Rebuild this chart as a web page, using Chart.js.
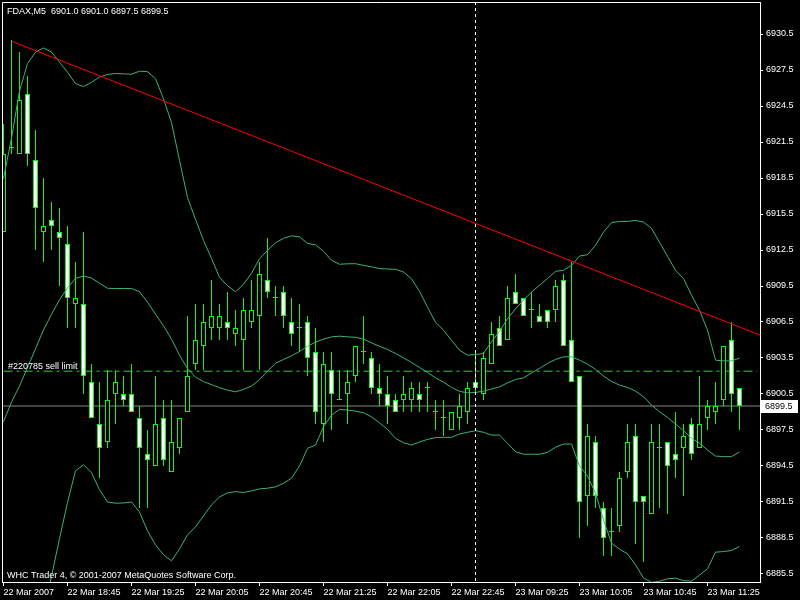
<!DOCTYPE html>
<html>
<head>
<meta charset="utf-8">
<script src="https://cdn.jsdelivr.net/npm/chart.js@4.4.1/dist/chart.umd.min.js"></script>
<style>
  html, body { margin: 0; padding: 0; background: #000; }
  canvas { display: block; }
</style>
</head>
<body>
<canvas id="grafico" width="800" height="600"></canvas>
<script>
// FDAX M5 - candles de 22 Mar 2007 18:05 ate 23 Mar 2007 11:45
const abertura = [
  6914.0, 6921.0, 6920.5, 6925.5, 6920.0, 6914.0, 6915.0, 6914.0, 6913.0, 6908.0,
  6908.0, 6901.5, 6898.0, 6896.5, 6900.5, 6900.5, 6900.5, 6898.5, 6895.5, 6894.5,
  6898.5, 6894.0, 6896.0, 6899.0, 6903.0, 6904.5, 6906.0, 6906.0, 6906.5, 6905.5,
  6905.0, 6906.5, 6907.0, 6910.0, 6908.5, 6909.0, 6906.5, 6906.0, 6906.5, 6904.0,
  6898.0, 6902.5, 6900.0, 6900.5, 6902.0, 6904.0, 6903.5, 6901.0, 6900.5, 6900.0,
  6900.0, 6900.0, 6900.5, 6901.0, 6899.0, 6898.5, 6897.5, 6898.5, 6899.0, 6901.5,
  6900.5, 6903.0, 6906.0, 6905.0, 6909.0, 6908.5, 6907.5, 6907.0, 6907.5, 6907.5,
  6910.0, 6905.0, 6902.0, 6892.0, 6896.5, 6891.0, 6889.0, 6889.5, 6894.0, 6897.0,
  6892.0, 6890.5, 6896.0, 6896.5, 6895.5, 6896.0, 6898.0, 6896.0, 6898.5, 6899.0,
  6900.0, 6905.0, 6901.0
];
const maxima = [
  6923.0, 6930.0, 6929.0, 6927.0, 6922.5, 6918.5, 6916.5, 6916.0, 6914.5, 6911.5,
  6914.0, 6903.0, 6901.5, 6902.5, 6902.5, 6902.0, 6903.0, 6899.5, 6897.5, 6902.0,
  6900.0, 6900.0, 6898.5, 6907.0, 6908.0, 6908.0, 6910.0, 6908.0, 6909.0, 6907.5,
  6908.5, 6910.0, 6911.5, 6913.5, 6909.5, 6909.5, 6908.5, 6908.0, 6907.0, 6906.0,
  6904.0, 6904.0, 6902.5, 6902.5, 6904.5, 6907.0, 6904.0, 6903.0, 6902.0, 6900.5,
  6902.0, 6901.5, 6901.5, 6901.5, 6900.0, 6900.0, 6899.0, 6900.5, 6901.5, 6904.0,
  6904.0, 6906.5, 6907.0, 6909.5, 6910.5, 6908.5, 6909.0, 6908.0, 6907.5, 6910.0,
  6910.5, 6911.5, 6902.0, 6898.0, 6897.0, 6891.5, 6891.0, 6894.0, 6898.0, 6898.0,
  6892.0, 6898.0, 6898.0, 6896.5, 6899.0, 6898.0, 6898.5, 6902.0, 6900.0, 6901.5,
  6904.5, 6906.5, 6901.0
];
const minima = [
  6914.0, 6920.5, 6920.5, 6919.5, 6912.5, 6911.5, 6912.5, 6909.5, 6906.0, 6906.0,
  6900.5, 6898.5, 6893.5, 6896.0, 6898.0, 6899.5, 6899.0, 6891.0, 6891.0, 6894.5,
  6894.5, 6894.0, 6895.5, 6899.0, 6902.5, 6902.5, 6905.0, 6905.0, 6905.0, 6904.5,
  6902.5, 6906.0, 6902.5, 6908.5, 6907.0, 6906.0, 6904.5, 6904.0, 6902.0, 6898.0,
  6896.5, 6897.5, 6900.0, 6898.0, 6901.5, 6903.0, 6900.5, 6899.5, 6898.0, 6899.0,
  6899.0, 6899.0, 6899.0, 6899.0, 6897.5, 6897.0, 6897.5, 6897.5, 6898.0, 6900.5,
  6900.0, 6903.0, 6904.5, 6905.0, 6908.0, 6907.0, 6906.0, 6906.5, 6906.0, 6906.5,
  6904.5, 6901.5, 6888.5, 6889.5, 6891.0, 6887.0, 6887.0, 6889.0, 6893.5, 6888.0,
  6886.5, 6890.5, 6891.0, 6890.5, 6893.5, 6892.0, 6895.0, 6896.0, 6897.5, 6898.0,
  6899.5, 6899.0, 6897.5
];
const fechamento = [
  6920.5, 6921.0, 6925.0, 6920.5, 6916.0, 6914.5, 6914.5, 6913.5, 6908.5, 6908.5,
  6902.0, 6898.5, 6896.0, 6900.0, 6901.5, 6900.0, 6899.0, 6896.0, 6895.0, 6898.0,
  6895.0, 6896.5, 6898.5, 6902.0, 6905.0, 6906.5, 6907.0, 6907.0, 6906.0, 6906.0,
  6907.5, 6907.5, 6910.5, 6909.0, 6908.5, 6907.0, 6905.5, 6906.0, 6903.5, 6899.0,
  6903.0, 6900.5, 6900.0, 6901.5, 6904.5, 6904.0, 6901.0, 6900.5, 6899.5, 6899.0,
  6900.5, 6901.0, 6900.0, 6901.0, 6899.0, 6898.5, 6899.0, 6899.5, 6901.0, 6901.0,
  6903.5, 6905.5, 6904.5, 6908.5, 6908.0, 6907.0, 6907.5, 6906.5, 6906.5, 6909.5,
  6904.5, 6901.5, 6891.5, 6897.0, 6892.0, 6888.5, 6889.0, 6893.5, 6896.5, 6891.5,
  6891.5, 6896.5, 6896.0, 6894.5, 6895.0, 6897.0, 6895.5, 6898.0, 6899.5, 6899.5,
  6904.5, 6900.5, 6899.5
];

// Bandas de Bollinger
const bandaSuperior = [
  6918.46, 6921.83, 6925.75, 6928.03, 6928.99, 6929.34, 6928.99, 6928.15, 6927.32, 6926.37,
  6926.12, 6926.47, 6926.92, 6927.13, 6927.21, 6927.18, 6927.15, 6927.40, 6927.36, 6926.78,
  6925.09, 6923.12, 6919.96, 6916.88, 6915.05, 6913.30, 6911.80, 6910.23, 6909.52, 6909.02,
  6909.64, 6910.56, 6911.77, 6912.47, 6913.10, 6913.47, 6913.68, 6913.60, 6913.05, 6912.93,
  6912.39, 6911.64, 6911.31, 6911.35, 6911.36, 6911.22, 6911.10, 6910.95, 6910.92, 6910.89,
  6910.67, 6910.10, 6909.06, 6907.73, 6906.48, 6905.82, 6904.98, 6904.15, 6903.74, 6903.79,
  6903.88, 6904.86, 6905.73, 6906.77, 6907.60, 6908.32, 6909.00, 6909.56, 6910.12, 6910.72,
  6910.81, 6911.22, 6912.00, 6912.11, 6912.89, 6913.99, 6914.78, 6914.88, 6914.88, 6914.97,
  6914.83, 6914.30, 6913.14, 6911.97, 6910.81, 6910.12, 6908.74, 6907.48, 6905.82, 6903.32,
  6903.26, 6903.26, 6903.49
];
const bandaMedia = [
  6898.19, 6899.83, 6901.16, 6902.71, 6904.27, 6905.83, 6907.15, 6908.35, 6909.34, 6910.14,
  6910.33, 6910.16, 6909.73, 6909.31, 6909.29, 6909.29, 6909.29, 6909.02, 6908.15, 6907.15,
  6906.19, 6905.07, 6903.74, 6902.61, 6901.91, 6901.53, 6901.28, 6901.03, 6900.82, 6900.68,
  6900.88, 6901.16, 6901.70, 6902.40, 6903.05, 6903.38, 6903.68, 6904.04, 6904.48, 6904.82,
  6905.07, 6905.26, 6905.32, 6905.26, 6905.23, 6905.07, 6904.76, 6904.48, 6904.21, 6903.88,
  6903.51, 6903.13, 6902.71, 6902.30, 6901.85, 6901.49, 6901.05, 6900.72, 6900.60, 6900.63,
  6900.74, 6900.91, 6901.10, 6901.43, 6901.71, 6901.85, 6902.26, 6902.63, 6903.05, 6903.38,
  6903.60, 6903.60, 6903.32, 6902.99, 6902.55, 6901.99, 6901.55, 6901.24, 6901.05, 6900.74,
  6900.27, 6899.58, 6899.02, 6898.55, 6898.00, 6897.44, 6896.81, 6896.39, 6895.83, 6895.33,
  6895.28, 6895.28, 6895.67
];
const bandaInferior = [
  6877.92, 6877.83, 6876.57, 6877.39, 6879.55, 6882.32, 6885.31, 6888.45, 6891.45, 6894.10,
  6894.60, 6893.95, 6892.52, 6891.50, 6891.40, 6891.42, 6891.50, 6890.67, 6889.09, 6887.93,
  6887.10, 6886.60, 6887.59, 6888.76, 6889.43, 6890.34, 6891.26, 6891.92, 6892.26, 6892.36,
  6892.30, 6892.42, 6892.59, 6892.65, 6892.76, 6893.06, 6893.48, 6894.50, 6895.97, 6896.25,
  6897.77, 6898.74, 6899.22, 6899.16, 6899.08, 6898.94, 6898.60, 6898.10, 6897.55, 6896.81,
  6896.44, 6896.25, 6896.50, 6896.72, 6896.86, 6896.89, 6896.89, 6897.17, 6897.31, 6897.44,
  6897.31, 6897.08, 6897.08, 6896.39, 6895.69, 6895.48, 6895.48, 6895.48, 6895.64, 6896.06,
  6896.33, 6896.33, 6894.50, 6893.67, 6892.23, 6890.01, 6888.07, 6887.57, 6887.18, 6886.27,
  6885.16, 6884.80, 6884.90, 6885.10, 6885.15, 6884.95, 6884.90, 6885.41, 6885.93, 6887.32,
  6887.37, 6887.46, 6887.79
];

const rotulosTempo = ['22 Mar 2007', '22 Mar 18:45', '22 Mar 19:25', '22 Mar 20:05', '22 Mar 20:45',
  '22 Mar 21:25', '22 Mar 22:05', '22 Mar 22:45', '23 Mar 09:25', '23 Mar 10:05', '23 Mar 10:45', '23 Mar 11:25'];
const barraRotulos = [0, 8, 16, 24, 32, 40, 48, 56, 64, 72, 80, 88];
const precosEixo = [6885.5, 6888.5, 6891.5, 6894.5, 6897.5, 6900.5, 6903.5, 6906.5,
  6909.5, 6912.5, 6915.5, 6918.5, 6921.5, 6924.5, 6927.5, 6930.5];

// linhas do grafico
const linhaTendencia = [{x: 1, y: 6929.9}, {x: 94.6, y: 6905.4}];
const precoVendaLimite = 6902.4;
const precoBid = 6899.5;
const barraVertical = 59;
const titulo = 'FDAX,M5  6901.0 6901.0 6897.5 6899.5';
const rodape = 'WHC Trader 4, \u00a9 2001-2007 MetaQuotes Software Corp.';
const textoOrdem = '#220785 sell limit';

const Y_MIN = 6884 + 5 / 6;
const Y_MAX = 6933 + 1 / 6;

let pavios = [];
let corpos = [];
let coresCorpo = [];
for (let i = 0; i < abertura.length; i++) {
  pavios.push({x: i, y: [minima[i], maxima[i]]});
  corpos.push({x: i, y: [abertura[i], fechamento[i]]});
  coresCorpo.push(fechamento[i] < abertura[i] ? '#ffffff' : '#000000');
}

function serie(valores) {
  return valores.map((v, i) => ({x: i, y: v}));
}

const fonte = {family: 'Liberation Sans', size: 9};

const moldura = {
  id: 'moldura',
  beforeDraw(chart) {
    const ctx = chart.ctx;
    ctx.save();
    ctx.fillStyle = '#000';
    ctx.fillRect(0, 0, chart.width, chart.height);
    ctx.restore();
  },
  afterDraw(chart) {
    const ctx = chart.ctx;
    const a = chart.chartArea;
    const y = chart.scales.y;
    ctx.save();
    ctx.strokeStyle = '#fff';
    ctx.lineWidth = 1;
    ctx.beginPath();
    ctx.moveTo(a.left + 0.5, a.bottom);
    ctx.lineTo(a.left + 0.5, a.top + 0.5);
    ctx.lineTo(a.right, a.top + 0.5);
    ctx.stroke();

    ctx.font = '9px "Liberation Sans"';
    ctx.fillStyle = '#fff';
    ctx.textBaseline = 'alphabetic';
    ctx.fillText(titulo, 7, 14);
    ctx.fillText(rodape, 7, 578);
    ctx.fillText(textoOrdem, 8, 369);

    // etiqueta do preco bid
    const py = Math.round(y.getPixelForValue(precoBid));
    ctx.fillStyle = '#fff';
    ctx.fillRect(a.right + 1, py - 6, 37, 13);
    ctx.fillStyle = '#000';
    ctx.textBaseline = 'middle';
    ctx.fillText(precoBid.toFixed(1), a.right + 5, py + 0.5);
    ctx.restore();
  }
};

const ctx = document.getElementById('grafico').getContext('2d');
const grafico = new Chart(ctx, {
  type: 'bar',
  data: {
    datasets: [
      {
        type: 'line',
        data: [{x: -1, y: precoBid}, {x: 96, y: precoBid}],
        borderColor: '#888888',
        borderWidth: 1,
        pointRadius: 0,
        order: 10
      },
      {
        type: 'line',
        data: [{x: 0, y: precoVendaLimite}, {x: 94.2, y: precoVendaLimite}],
        borderColor: '#32cd32',
        borderWidth: 1,
        borderDash: [9, 4, 3, 4],
        pointRadius: 0,
        order: 9
      },
      {
        data: pavios,
        backgroundColor: '#00ff00',
        borderWidth: 0,
        barThickness: 1,
        grouped: false,
        inflateAmount: 0,
        order: 8
      },
      {
        data: corpos,
        backgroundColor: coresCorpo,
        borderColor: '#00ff00',
        borderWidth: 1,
        borderSkipped: false,
        barThickness: 5,
        minBarLength: 1,
        grouped: false,
        inflateAmount: 0,
        order: 7
      },
      {
        type: 'line',
        data: serie(bandaSuperior),
        borderColor: '#3cb371',
        borderWidth: 1,
        pointRadius: 0,
        tension: 0,
        order: 5
      },
      {
        type: 'line',
        data: serie(bandaMedia),
        borderColor: '#3cb371',
        borderWidth: 1,
        pointRadius: 0,
        tension: 0,
        order: 5
      },
      {
        type: 'line',
        data: serie(bandaInferior),
        borderColor: '#3cb371',
        borderWidth: 1,
        pointRadius: 0,
        tension: 0,
        order: 5
      },
      {
        type: 'line',
        data: linhaTendencia,
        borderColor: '#ff0000',
        borderWidth: 1,
        pointRadius: 0,
        order: 3
      },
      {
        type: 'line',
        data: [{x: barraVertical, y: Y_MAX}, {x: barraVertical, y: Y_MIN}],
        borderColor: '#ffffff',
        borderWidth: 1,
        borderDash: [3, 3],
        pointRadius: 0,
        order: 2
      }
    ]
  },
  options: {
    responsive: false,
    animation: false,
    events: [],
    layout: {padding: {left: 2, top: 2, right: 0, bottom: 0}},
    plugins: {
      legend: {display: false},
      tooltip: {enabled: false}
    },
    scales: {
      x: {
        type: 'linear',
        min: -0.1875,
        max: 94.5625,
        offset: false,
        afterBuildTicks: (eixo) => {
          eixo.ticks = barraRotulos.map(v => ({value: v}));
        },
        afterFit: (eixo) => {
          eixo.height = 18;
          eixo.paddingLeft = 0;
          eixo.paddingRight = 0;
        },
        ticks: {
          callback: (valor, indice) => rotulosTempo[indice],
          align: 'start',
          autoSkip: false,
          maxRotation: 0,
          color: '#ffffff',
          font: fonte,
          padding: 1
        },
        grid: {drawOnChartArea: false, offset: false, color: '#ffffff', tickLength: 4},
        border: {color: '#ffffff'}
      },
      y: {
        type: 'linear',
        position: 'right',
        min: Y_MIN,
        max: Y_MAX,
        afterBuildTicks: (eixo) => {
          eixo.ticks = precosEixo.map(v => ({value: v}));
        },
        afterFit: (eixo) => {
          eixo.width = 40;
          eixo.paddingTop = 0;
          eixo.paddingBottom = 0;
        },
        ticks: {
          callback: (valor) => valor.toFixed(1),
          color: '#ffffff',
          font: fonte,
          padding: 3
        },
        grid: {drawOnChartArea: false, color: '#ffffff', tickLength: 3},
        border: {color: '#ffffff'}
      }
    }
  },
  plugins: [moldura]
});
</script>
</body>
</html>
